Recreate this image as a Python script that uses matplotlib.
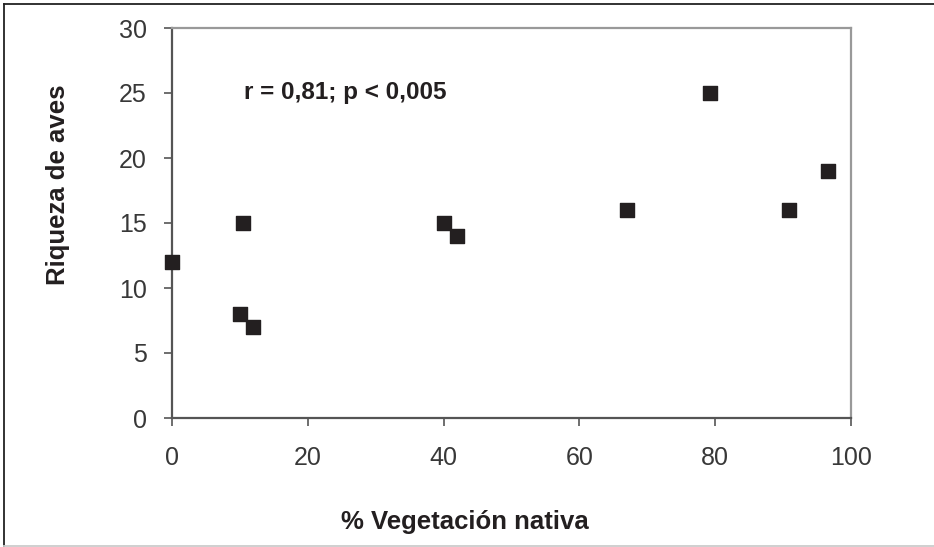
import matplotlib
matplotlib.use("Agg")
import matplotlib.pyplot as plt
from matplotlib.lines import Line2D

plt.rcParams['font.family'] = ['Liberation Sans', 'DejaVu Sans']

vegetacion = [0, 10, 10.5, 12, 40, 42, 67, 79.3, 90.8, 96.6]
riqueza = [12, 8, 15, 7, 15, 14, 16, 25, 16, 19]
xticks = [0, 20, 40, 60, 80, 100]
yticks = [0, 5, 10, 15, 20, 25, 30]

fig = plt.figure(figsize=(9.34, 5.47), dpi=100)
ax = fig.add_axes([172/934, 1-418/547, (851-172)/934, (418-28)/547])

ax.scatter(vegetacion, riqueza, marker='s', s=105, color='#231f20', zorder=5, clip_on=False)

ax.set_xlim(0, 100)
ax.set_ylim(0, 30)
ax.set_xticks(xticks)
ax.set_yticks(yticks)
ax.tick_params(axis='both', direction='out', length=6, width=1.2, color='#555555',
               labelsize=18, labelcolor='#383838')
ax.tick_params(axis='y', pad=12)
ax.tick_params(axis='x', pad=14)

for side in ['left', 'bottom']:
    ax.spines[side].set_color('#555555')
    ax.spines[side].set_linewidth(1.6)
for side in ['top', 'right']:
    ax.spines[side].set_color('#999999')
    ax.spines[side].set_linewidth(1.6)

fig.text(244/934, 1-93/547, 'r = 0,81; p < 0,005', fontsize=17.5, fontweight='bold',
         color='#231f20', va='center', ha='left')
fig.text(465/934, 1-522/547, '% Vegetación nativa', fontsize=18.5, fontweight='bold',
         color='#231f20', ha='center', va='center')
fig.text(58/934, 1-185/547, 'Riqueza de aves', fontsize=18.5, fontweight='bold',
         color='#231f20', ha='center', va='center', rotation=90)

# outer frame: dark top and left, light bottom
fig.add_artist(Line2D([4/934, 1], [1-4/547, 1-4/547], transform=fig.transFigure,
                      color='#222222', linewidth=1.3))
fig.add_artist(Line2D([4/934, 4/934], [1-4/547, 1/547], transform=fig.transFigure,
                      color='#222222', linewidth=1.3))
fig.add_artist(Line2D([4/934, 1], [1.5/547, 1.5/547], transform=fig.transFigure,
                      color='#cccccc', linewidth=1.3))

fig.savefig('out.png', dpi=100)
